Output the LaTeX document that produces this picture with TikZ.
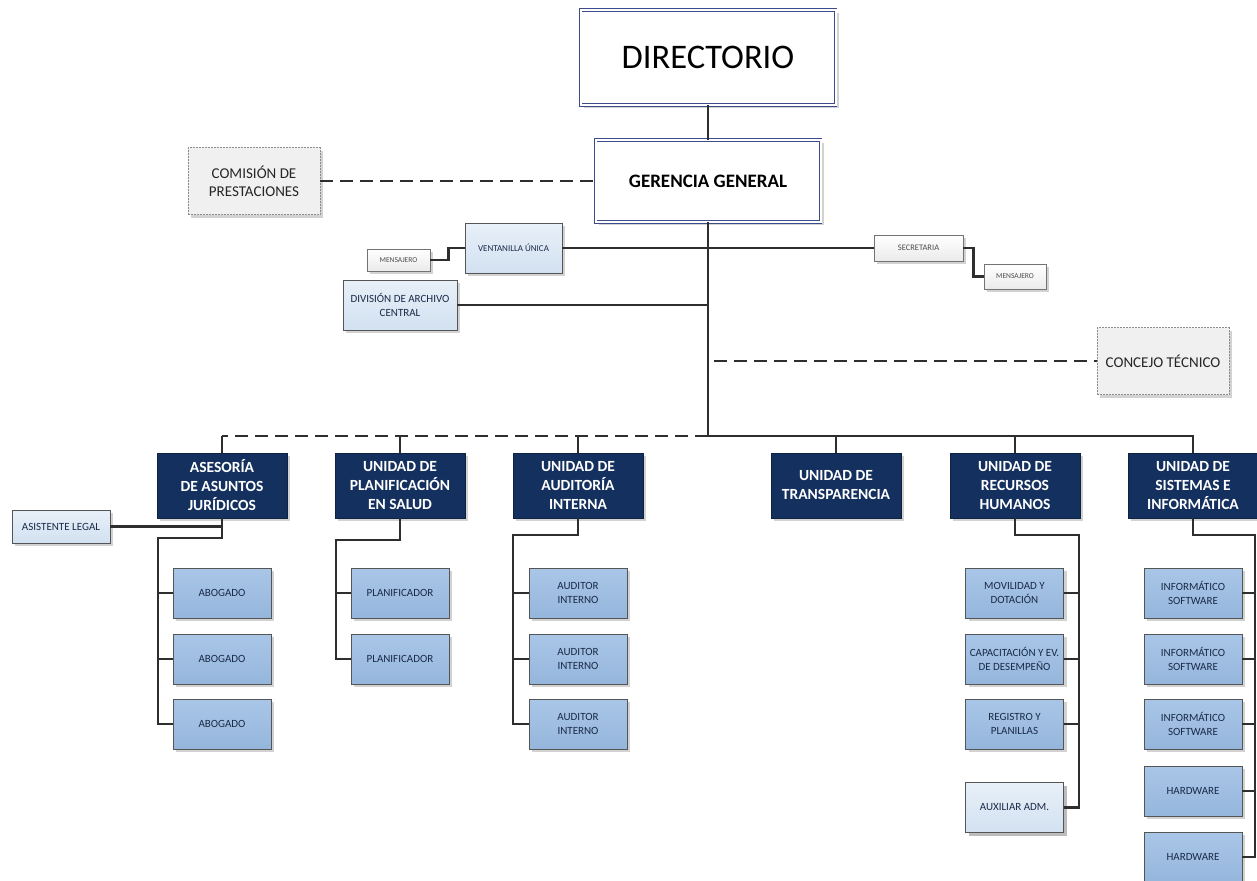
\documentclass[tikz,border=0pt]{standalone}
\usepackage{fontspec}
\setmainfont{Carlito}
\usetikzlibrary{shadows}

\definecolor{navy}{HTML}{14305E}
\definecolor{cellblue}{HTML}{95B6DC}
\definecolor{cellbluetop}{HTML}{A9C6E7}
\definecolor{paleblue}{HTML}{D2E1F1}
\definecolor{palebluetop}{HTML}{E8F0F8}
\definecolor{boxedge}{HTML}{555555}
\definecolor{linegray}{HTML}{2E2E2E}
\definecolor{celltext}{HTML}{1A2A48}
\definecolor{framecol}{HTML}{3E4C8C}

\tikzset{
  box/.style={draw=boxedge, line width=0.9pt, align=center, inner sep=1pt,
    drop shadow={shadow xshift=3pt, shadow yshift=-3pt, fill=black!35}},
  topbox/.style={box, draw=framecol, double=white, double distance=2pt, line width=0.8pt, fill=white},
  hdr/.style={box, draw=navy!70!black, fill=navy, text=white,
    font=\fontsize{15.5}{19}\selectfont\bfseries, minimum width=130pt, minimum height=65pt},
  cell/.style={box, top color=cellbluetop, bottom color=cellblue, text=celltext,
    font=\fontsize{11}{14}\selectfont, minimum width=98pt, minimum height=50pt},
  pale/.style={box, top color=palebluetop, bottom color=paleblue, text=celltext},
  tiny/.style={box, draw=black!55, top color=white, bottom color=black!8, text=black!70},
  aside/.style={box, draw=black!45, dash pattern=on 2pt off 1pt, fill=black!6, text=black!85,
    font=\fontsize{15}{18}\selectfont, minimum width=132pt, minimum height=67pt},
  wire/.style={draw=linegray, line width=2.4pt},
  dashwire/.style={wire, dash pattern=on 13pt off 7pt},
}

\begin{document}
\begin{tikzpicture}[x=1pt,y=-1pt]
\clip (0,0) rectangle (1257,880);

% top of the chart
\node[topbox, minimum width=255pt, minimum height=95pt, font=\fontsize{34.5}{40}\selectfont] (dir) at (708,57.5) {DIRECTORIO};
\node[topbox, minimum width=225pt, minimum height=82pt, font=\fontsize{19}{22}\selectfont\bfseries] (ger) at (708,181) {GERENCIA GENERAL};
\node[aside] (com) at (254,181) {COMISIÓN DE\\PRESTACIONES};
\node[aside] (conc) at (1163,361) {CONCEJO TÉCNICO};

\node[pale, minimum width=97pt, minimum height=50pt, font=\fontsize{9}{11}\selectfont] (vent) at (513.5,248) {VENTANILLA ÚNICA};
\node[tiny, minimum width=63pt, minimum height=22pt, font=\fontsize{7.5}{9}\selectfont] (mensL) at (398.5,260) {MENSAJERO};
\node[pale, minimum width=114pt, minimum height=50pt, font=\fontsize{11}{14}\selectfont] (div) at (400,305) {DIVISIÓN DE ARCHIVO\\CENTRAL};
\node[tiny, minimum width=89pt, minimum height=26pt, font=\fontsize{8.5}{10}\selectfont] (sec) at (918.5,248) {SECRETARIA};
\node[tiny, minimum width=62pt, minimum height=25pt, font=\fontsize{7.5}{9}\selectfont] (mensR) at (1015,276.5) {MENSAJERO};

\coordinate (bus) at (708,436);
\coordinate (concL) at (714,361);

\draw[wire] (dir) -- (ger);
\draw[wire] (ger.south) -- (bus);
\draw[dashwire] (com.east) -- (ger.west);
\draw[wire] (vent.east) -- (sec.west);
\draw[wire] (mensL.east) -- ++(18,0) |- (vent.west);
\draw[wire] (div.east) -- (div.east -| bus);
\draw[wire] (sec.east) -- ++(10,0) |- (mensR.west);
\draw[dashwire] (concL) -- (conc.west);

% units
\node[hdr] (ase) at (222,485.5) {ASESORÍA\\DE ASUNTOS\\JURÍDICOS};
\node[hdr] (pla) at (400,485.5) {UNIDAD DE\\PLANIFICACIÓN\\EN SALUD};
\node[hdr] (aud) at (578,485.5) {UNIDAD DE\\AUDITORÍA\\INTERNA};
\node[hdr] (tra) at (836,485.5) {UNIDAD DE\\TRANSPARENCIA};
\node[hdr] (rrh) at (1015,485.5) {UNIDAD DE\\RECURSOS\\HUMANOS};
\node[hdr] (sis) at (1193,485.5) {UNIDAD DE\\SISTEMAS E\\INFORMÁTICA};

\draw[dashwire] (bus) -- (bus -| ase.north);
\draw[wire] (bus -| ase.north) -- (ase.north);
\draw[wire] (bus -| pla.north) -- (pla.north);
\draw[wire] (bus -| aud.north) -- (aud.north);
\draw[wire] (bus) -| (sis.north);
\draw[wire] (bus -| tra.north) -- (tra.north);
\draw[wire] (bus -| rrh.north) -- (rrh.north);

% staff boxes
\node[pale, minimum width=98pt, minimum height=33pt, font=\fontsize{11}{14}\selectfont] (asis) at (61,526.5) {ASISTENTE LEGAL};
\foreach \i/\y in {1/593,2/659,3/724}
  \node[cell] (ab\i) at (222,\y) {ABOGADO};
\foreach \i/\y in {1/593,2/659}
  \node[cell] (pl\i) at (400,\y) {PLANIFICADOR};
\foreach \i/\y in {1/593,2/659,3/724}
  \node[cell] (au\i) at (578,\y) {AUDITOR\\INTERNO};
\node[cell] (rh1) at (1014.5,593) {MOVILIDAD Y\\DOTACIÓN};
\node[cell] (rh2) at (1014.5,659) {CAPACITACIÓN Y EV.\\DE DESEMPEÑO};
\node[cell] (rh3) at (1014.5,724) {REGISTRO Y\\PLANILLAS};
\node[cell, pale] (rh4) at (1014.5,807.5) {AUXILIAR ADM.};
\foreach \i/\y in {1/593,2/659,3/724}
  \node[cell] (si\i) at (1193,\y) {INFORMÁTICO\\SOFTWARE};
\foreach \i/\y in {4/791,5/857}
  \node[cell] (si\i) at (1193,\y) {HARDWARE};

\coordinate (aseL) at (158,538);
\coordinate (plaL) at (336,540);
\coordinate (audL) at (513,535);
\coordinate (rrhR) at (1079,535);
\coordinate (sisR) at (1255,535);

\draw[wire] (asis.east) -- (asis.east -| ase.south);
\draw[wire] (ase.south) |- (aseL) |- (ab3.west);
\foreach \i in {1,2}
  \draw[wire] (aseL |- ab\i.west) -- (ab\i.west);
\draw[wire] (pla.south) |- (plaL) |- (pl2.west);
\draw[wire] (plaL |- pl1.west) -- (pl1.west);
\draw[wire] (aud.south) |- (audL) |- (au3.west);
\foreach \i in {1,2}
  \draw[wire] (audL |- au\i.west) -- (au\i.west);
\draw[wire] (rrh.south) |- (rrhR) |- (rh4.east);
\foreach \i in {1,2,3}
  \draw[wire] (rh\i.east) -- (rh\i.east -| rrhR);
\draw[wire] (sis.south) |- (sisR) |- (si5.east);
\foreach \i in {1,2,3,4}
  \draw[wire] (si\i.east) -- (si\i.east -| sisR);
\end{tikzpicture}
\end{document}
